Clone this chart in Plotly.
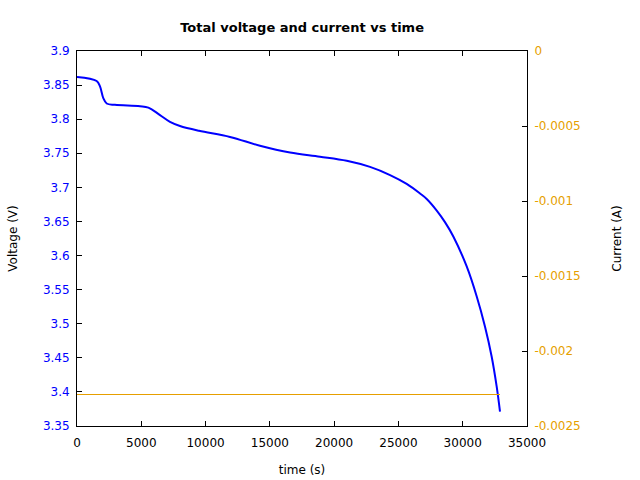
import plotly.graph_objects as go

# ---- data ----
time_s = [0, 1530, 1790, 2045, 2310, 2950, 4900, 5550, 6455, 7230, 8010, 9490,
          11900, 14230, 16570, 18900, 20980, 22790, 24350, 25640, 26680, 27200,
          27980, 28620, 29270, 30310, 31090, 31730, 32250, 32640, 32900]
voltage_v = [3.862, 3.856, 3.848, 3.831, 3.823, 3.821, 3.819, 3.817, 3.806, 3.796,
             3.790, 3.783, 3.774, 3.761, 3.751, 3.745, 3.739, 3.730, 3.718, 3.705,
             3.691, 3.683, 3.666, 3.649, 3.628, 3.584, 3.540, 3.496, 3.452, 3.408, 3.371]
current_t = [0, 32900]
current_a = [-0.00229, -0.00229]

v_tickvals = [3.35, 3.4, 3.45, 3.5, 3.55, 3.6, 3.65, 3.7, 3.75, 3.8, 3.85, 3.9]
v_ticktext = ["3.35", "3.4", "3.45", "3.5", "3.55", "3.6", "3.65", "3.7", "3.75", "3.8", "3.85", "3.9"]
c_tickvals = [0, -0.0005, -0.001, -0.0015, -0.002, -0.0025]
c_ticktext = ["0", "-0.0005", "-0.001", "-0.0015", "-0.002", "-0.0025"]
t_tickvals = [0, 5000, 10000, 15000, 20000, 25000, 30000, 35000]
t_ticktext = ["0", "5000", "10000", "15000", "20000", "25000", "30000", "35000"]

BLUE = "#0000ff"
ORANGE = "#e69f00"
FONT = "DejaVu Sans"

fig = go.Figure()
fig.add_trace(go.Scatter(x=current_t, y=current_a, mode="lines", yaxis="y2",
                         line=dict(color=ORANGE, width=1.2), showlegend=False))
fig.add_trace(go.Scatter(x=time_s, y=voltage_v, mode="lines", line_shape="spline",
                         line=dict(color=BLUE, width=2, smoothing=1.0), showlegend=False))

fig.update_layout(
    width=640, height=480,
    margin=dict(l=77, r=113, t=51, b=54),
    paper_bgcolor="white", plot_bgcolor="white",
    font=dict(family=FONT, size=12, color="black"),
    title=dict(text="<b>Total voltage and current vs time</b>", x=0.472, xanchor="center",
               y=0.942, yanchor="middle", font=dict(size=13, color="black")),
    xaxis=dict(range=[0, 35000], tickvals=t_tickvals, ticktext=t_ticktext, automargin=False,
               showgrid=False, zeroline=False, showline=True, linecolor="black", linewidth=1,
               mirror="ticks", ticks="inside", ticklen=5, tickcolor="black",
               ticklabelstandoff=6,
               tickfont=dict(size=12, color="black"),
               title=dict(text="time (s)", font=dict(size=12), standoff=16)),
    yaxis=dict(range=[3.35, 3.9], tickvals=v_tickvals, ticktext=v_ticktext, automargin=False,
               showgrid=False, zeroline=False, showline=True, linecolor="black", linewidth=1,
               ticks="inside", ticklen=5, tickcolor="black",
               ticklabelstandoff=4,
               tickfont=dict(size=12, color=BLUE),
               title=dict(text="Voltage (V)", font=dict(size=12), standoff=22)),
    yaxis2=dict(range=[-0.0025, 0], tickvals=c_tickvals, ticktext=c_ticktext, automargin=False,
                overlaying="y", side="right",
                showgrid=False, zeroline=False, showline=True, linecolor="black", linewidth=1,
                ticks="inside", ticklen=5, tickcolor="black",
                ticklabelstandoff=4,
                tickfont=dict(size=12, color=ORANGE),
                title=dict(text="Current (A)", font=dict(size=12), standoff=32)),
)

fig.write_html("out.html")
